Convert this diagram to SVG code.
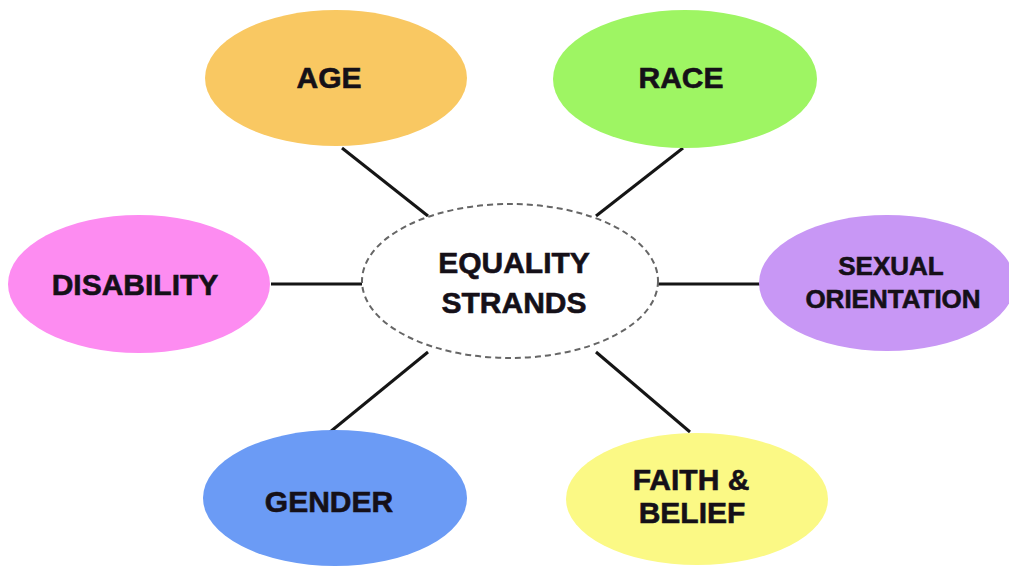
<svg xmlns="http://www.w3.org/2000/svg" width="1009" height="568" viewBox="0 0 1009 568">
<style>
.lbl{font-family:"Liberation Sans",Arial,sans-serif;font-weight:bold;font-size:30px;fill:#151018;stroke:#151018;stroke-width:0.6;text-anchor:middle}
.sm{font-size:26px}
.conn line{stroke:#151515;stroke-width:3}
</style>
<rect width="1009" height="568" fill="#ffffff"/>
<g id="connectors" class="conn">
<line x1="342" y1="148" x2="428" y2="216"/>
<line x1="683" y1="148" x2="596" y2="216"/>
<line x1="271" y1="284" x2="362" y2="284"/>
<line x1="658" y1="284" x2="760" y2="284"/>
<line x1="428" y1="352" x2="330" y2="432"/>
<line x1="596" y1="352" x2="690" y2="432"/>
</g>
<g id="center">
<ellipse cx="510" cy="281" rx="148" ry="77" fill="#ffffff" stroke="#666" stroke-width="2" stroke-dasharray="6,4"/>
<text class="lbl" x="514" y="273">EQUALITY</text>
<text class="lbl" x="514" y="313">STRANDS</text>
</g>
<g id="age">
<ellipse cx="336" cy="78" rx="131" ry="68" fill="#F9C862"/>
<text class="lbl" x="329" y="88">AGE</text>
</g>
<g id="race">
<ellipse cx="685" cy="79" rx="132" ry="69" fill="#9EF563"/>
<text class="lbl" x="681" y="88">RACE</text>
</g>
<g id="disability">
<ellipse cx="139" cy="284" rx="131" ry="69" fill="#FD8CF1"/>
<text class="lbl" x="135" y="295">DISABILITY</text>
</g>
<g id="sexual-orientation">
<ellipse cx="887" cy="283" rx="128" ry="68" fill="#C897F5"/>
<text class="lbl sm" x="891" y="275">SEXUAL</text>
<text class="lbl sm" x="893" y="308">ORIENTATION</text>
</g>
<g id="gender">
<ellipse cx="335" cy="498" rx="132" ry="68" fill="#6B9BF5"/>
<text class="lbl" x="329" y="512">GENDER</text>
</g>
<g id="faith-belief">
<ellipse cx="697" cy="499" rx="131" ry="66" fill="#FBF985"/>
<text class="lbl" x="691" y="490">FAITH &amp;</text>
<text class="lbl" x="692" y="523">BELIEF</text>
</g>
</svg>
